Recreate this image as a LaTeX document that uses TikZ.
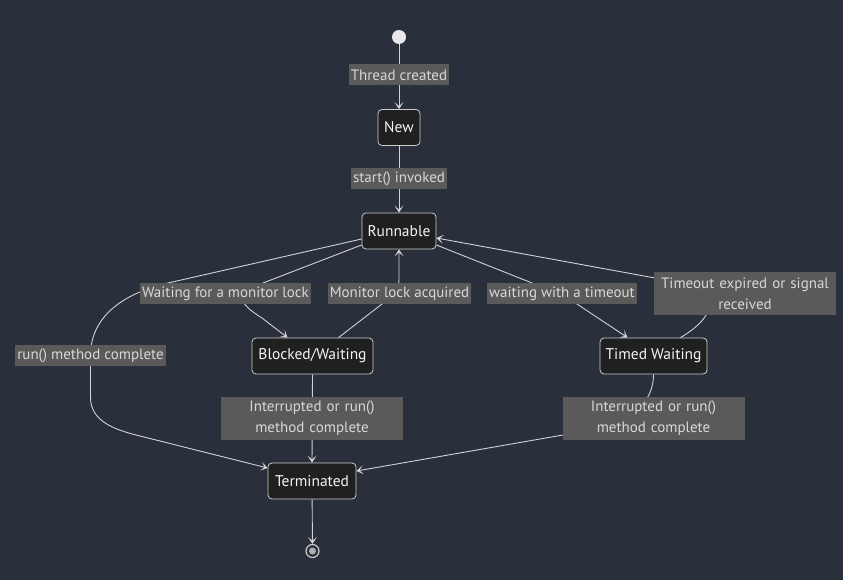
\documentclass[tikz,border=0pt]{standalone}
\usepackage{fontspec}
\setmainfont{PT Sans}
\usetikzlibrary{arrows.meta,calc}
\definecolor{bgc}{HTML}{2A2F3C}
\definecolor{nodefill}{HTML}{1F2020}
\definecolor{nodedraw}{HTML}{CCCCCC}
\definecolor{lblfill}{HTML}{5A5A5A}
\definecolor{lbltext}{HTML}{D8D8D8}
\definecolor{linec}{HTML}{D3D3D3}
\definecolor{statetext}{HTML}{F4F4F4}
\definecolor{startc}{HTML}{E8E8E8}
\pgfdeclarelayer{bglayer}
\pgfdeclarelayer{edgelayer}
\pgfsetlayers{bglayer,edgelayer,main}
\tikzset{
  statebox/.style={draw=nodedraw, fill=nodefill, rounded corners=4pt, line width=0.8pt,
    text=statetext, font=\fontsize{15.5}{18}\selectfont, minimum height=36pt, inner xsep=0pt},
  lbl/.style={fill=lblfill, text=lbltext, font=\fontsize{15}{18}\selectfont,
    inner xsep=2pt, inner ysep=0pt, minimum height=21pt},
  lbltwo/.style={fill=lblfill, text=lbltext, font=\fontsize{15}{21}\selectfont,
    align=center, inner xsep=2pt, inner ysep=0pt, text width=178pt, minimum height=43pt},
  edge/.style={draw=linec, line width=0.9pt, -{Stealth[length=7pt,width=9pt,inset=4pt]}}
}
\begin{document}
\begin{tikzpicture}[x=1pt,y=-1pt]
\begin{pgfonlayer}{bglayer}
\fill[bgc] (0,0) rectangle (843,580);
\end{pgfonlayer}
\useasboundingbox (0,0) rectangle (843,580);

\node[circle, fill=startc, minimum size=14pt, inner sep=0pt] (start) at (399,37) {};
\node[lbl] (lthr) at (399,75) {Thread created};
\node[statebox, minimum width=42pt] (new) at (399,127.5) {New};
\node[lbl] (lstart) at (399,179) {start() invoked};
\node[statebox, minimum width=74pt] (run) at (399,231) {Runnable};
\node[lbl] (lwait) at (225.5,293.5) {Waiting for a monitor lock};
\node[lbl] (lacq) at (399.5,293.5) {Monitor lock acquired};
\node[lbl] (ltmo) at (562,293.5) {waiting with a timeout};
\node[lbltwo] (lexp) at (745,293.5) {Timeout expired or signal\\received};
\node[lbl] (lrun) at (90.5,355.5) {run() method complete};
\node[statebox, minimum width=121pt] (blk) at (312.5,356) {Blocked/Waiting};
\node[statebox, minimum width=107pt] (tw) at (653.5,356) {Timed Waiting};
\node[lbltwo] (lintA) at (312,418.5) {Interrupted or run()\\method complete};
\node[lbltwo] (lintB) at (653.5,418.5) {Interrupted or run()\\method complete};
\node[statebox, minimum width=88pt] (term) at (312,481) {Terminated};
\node[circle, draw=nodedraw, fill=bgc, line width=1.2pt, minimum size=13pt, inner sep=0pt] (end) at (312.5,551) {};
\node[circle, fill=nodedraw!85!black, minimum size=7pt, inner sep=0pt] (endin) at (end.center) {};

\begin{pgfonlayer}{edgelayer}
\draw[edge] (start) -- (new);
\draw[edge] (new) -- (run);
\draw[edge] ($(run.west)+(0,8)$) -- (168,283) to[out=193,in=90] (lrun.center)
  -- ($(lrun.center)+(0,42)$) to[out=-90,in=166] (140,436) -- ($(term.west)+(0,-13)$);
\draw[edge] ($(run.west)+(0,14)$) -- (263,283) .. controls (232,295) and (240,304) .. (262,318)
  -- ($(blk.north)+(-25,0)$);
\draw[edge] ($(blk.north)+(26,0)$) -- (382,304) to[out=37,in=-90] (399,280) -- (run.south);
\draw[edge] ($(run.east)+(0,14)$) -- (532,283) to[out=-22,in=146] (577,304) -- ($(tw.north)+(-26,0)$);
\draw[edge] ($(tw.north)+(27,0)$) .. controls (724,312) and (722,280) .. (655,278) -- ($(run.east)+(0,7)$);
\draw[edge] (blk.south) -- (term.north);
\draw[edge] (tw.south) to[out=-90,in=10] (563,435) -- ($(term.east)+(0,-10)$);
\draw[edge] (term) -- (end);
\end{pgfonlayer}
\end{tikzpicture}
\end{document}
